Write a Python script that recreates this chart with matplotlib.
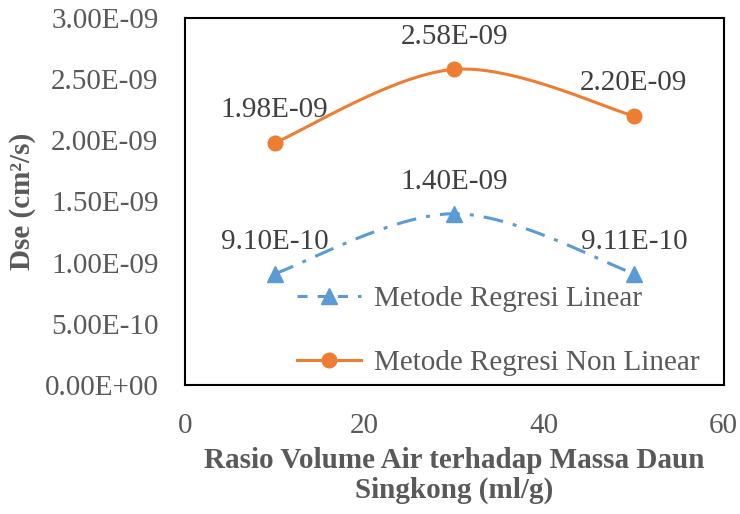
import numpy as np
import matplotlib.pyplot as plt

# data
rasio = [10, 30, 50]
dse_linear = [9.10e-10, 1.40e-09, 9.11e-10]
dse_nonlinear = [1.98e-09, 2.58e-09, 2.20e-09]
label_linear = ['9.10E-10', '1.40E-09', '9.11E-10']
label_nonlinear = ['1.98E-09', '2.58E-09', '2.20E-09']
yticks = [0, 5e-10, 1e-9, 1.5e-9, 2e-9, 2.5e-9, 3e-9]
ytick_labels = ['0.00E+00', '5.00E-10', '1.00E-09', '1.50E-09',
                '2.00E-09', '2.50E-09', '3.00E-09']

GREY = '#595959'
BLUE = '#5B9BD5'
ORANGE = '#ED7D31'

plt.rcParams['font.family'] = ['Liberation Serif', 'DejaVu Serif']


def smooth(x, y, n=60):
    # excel-like smoothed line (cubic bezier through the points)
    x = np.asarray(x, float)
    y = np.asarray(y, float)
    px = np.concatenate([[x[0]], x, [x[-1]]])
    py = np.concatenate([[y[0]], y, [y[-1]]])
    xs, ys = [], []
    t = np.linspace(0, 1, n)
    for i in range(1, len(x)):
        p0 = np.array([px[i], py[i]])
        p3 = np.array([px[i + 1], py[i + 1]])
        c1 = p0 + (np.array([px[i + 1], py[i + 1]]) - np.array([px[i - 1], py[i - 1]])) / 6
        c2 = p3 - (np.array([px[i + 2], py[i + 2]]) - np.array([px[i], py[i]])) / 6
        b = ((1 - t) ** 3)[:, None] * p0 + (3 * (1 - t) ** 2 * t)[:, None] * c1 \
            + (3 * (1 - t) * t ** 2)[:, None] * c2 + (t ** 3)[:, None] * p3
        xs.extend(b[:, 0])
        ys.extend(b[:, 1])
    return xs, ys


fig = plt.figure(figsize=(7.4, 5.14), dpi=100)
# plot box: x 185..724 px, y 18..385 px
ax = fig.add_axes([0.25, 0.251, 0.728, 0.714])

dash = (6.5, 3.3, 1.3, 3.3)
sx, sy = smooth(rasio, dse_linear)
ax.plot(sx, sy, color=BLUE, lw=2.2, dashes=dash)
ax.plot(rasio, dse_linear, ls='none', marker='^', ms=11, color=BLUE)
ax.plot([], [], color=BLUE, lw=2.2, dashes=(3.3, 3.3), marker='^', ms=11,
        label='Metode Regresi Linear')

sx, sy = smooth(rasio, dse_nonlinear)
ax.plot(sx, sy, color=ORANGE, lw=2.2)
ax.plot(rasio, dse_nonlinear, ls='none', marker='o', ms=10.5, color=ORANGE)
ax.plot([], [], color=ORANGE, lw=2.2, marker='o', ms=10.5,
        label='Metode Regresi Non Linear')

for x, y, s in zip(rasio, dse_linear, label_linear):
    ax.annotate(s, (x, y), xytext=(0, 23), textcoords='offset points',
                ha='center', va='center', fontsize=21, color='#404040')
for x, y, s in zip(rasio, dse_nonlinear, label_nonlinear):
    ax.annotate(s, (x, y), xytext=(0, 23.5), textcoords='offset points',
                ha='center', va='center', fontsize=21, color='#404040')

ax.set_xlim(0, 60)
ax.set_ylim(0, 3e-9)
ax.set_xticks([0, 20, 40, 60])
ax.set_yticks(yticks)
ax.set_yticklabels(ytick_labels)
ax.tick_params(length=0, labelsize=21, labelcolor=GREY)
ax.tick_params(axis='y', pad=19)
ax.tick_params(axis='x', pad=20)
for sp in ax.spines.values():
    sp.set_color('black')
    sp.set_linewidth(1.5)

ax.set_xlabel('Rasio Volume Air terhadap Massa Daun\nSingkong (ml/g)',
              fontsize=21, fontweight='bold', color=GREY, labelpad=6,
              linespacing=1.12)
ax.set_ylabel('Dse (cm²/s)', fontsize=21, fontweight='bold', color=GREY,
              labelpad=6)

ax.legend(loc='center left', bbox_to_anchor=(0.208, 0.147), frameon=False,
          fontsize=21, labelcolor=GREY, handlelength=2.2, labelspacing=1.3,
          handletextpad=0.45, borderpad=0, borderaxespad=0)

plt.savefig('out.png', dpi=100)
plt.close()
